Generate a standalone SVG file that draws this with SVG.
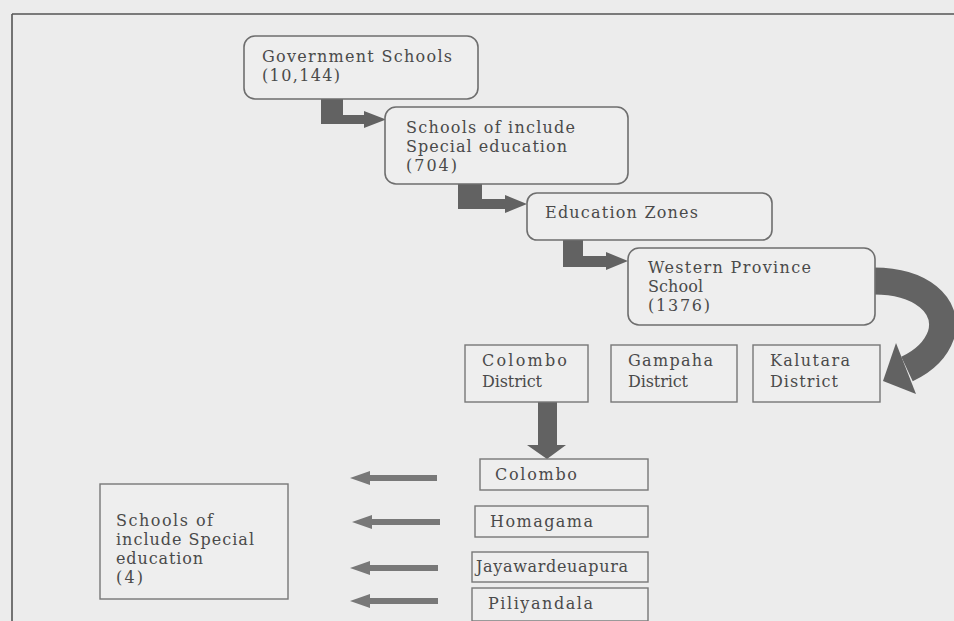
<svg xmlns="http://www.w3.org/2000/svg" width="954" height="621" viewBox="0 0 954 621">
<style>
.t{font-family:"DejaVu Serif","Liberation Serif",serif;font-size:16px;fill:#4a4a4a}
.rb{fill:#eeeeee;stroke:#6e6e6e;stroke-width:1.6}
.bx{fill:#eeeeee;stroke:#777;stroke-width:1.4}
.arr{fill:#626262}
.la{fill:#787878}
</style>
<rect width="954" height="621" fill="#ececec"/>
<g id="frame" fill="none" stroke="#555" stroke-width="1.6">
<line x1="12" y1="14" x2="954" y2="14"/>
<line x1="12" y1="14" x2="12" y2="621"/>
</g>
<g id="connectors">
<polygon class="arr" points="321,99 343,99 343,115 364,115 364,111 386,119.5 364,128 364,124 321,124"/>
<polygon class="arr" points="458,184 482,184 482,199 505,199 505,195 527,204 505,213 505,209 458,209"/>
<polygon class="arr" points="563,240 583,240 583,256 606,256 606,252 628,261 606,270 606,267 563,267"/>
<path d="M874 281 C920 281 950 305 941 335 C935 352 922 362 907 369" fill="none" stroke="#636363" stroke-width="27"/>
<polygon class="arr" points="896,343 883,381 916,394"/>
<polygon class="arr" points="538,402 557,402 557,445 566,445 547,459 527,445 538,445"/>
<polygon class="la" points="437,475 370,475 370,471 350,478 370,485 370,481 437,481"/>
<polygon class="la" points="440,519 372,519 372,515 352,522 372,529 372,525 440,525"/>
<polygon class="la" points="438,565 370,565 370,561 350,568 370,575 370,571 438,571"/>
<polygon class="la" points="438,598 370,598 370,594 350,601 370,608 370,604 438,604"/>
</g>
<g id="gov">
<rect class="rb" x="244" y="36" width="234" height="63" rx="11"/>
<text class="t" x="262" y="62" textLength="190" lengthAdjust="spacing">Government Schools</text>
<text class="t" x="262" y="81" textLength="78" lengthAdjust="spacing">(10,144)</text>
</g>
<g id="special">
<rect class="rb" x="385" y="107" width="243" height="77" rx="11"/>
<text class="t" x="406" y="133" textLength="169" lengthAdjust="spacing">Schools of include</text>
<text class="t" x="406" y="152" textLength="161" lengthAdjust="spacing">Special education</text>
<text class="t" x="406" y="171" textLength="51" lengthAdjust="spacing">(704)</text>
</g>
<g id="zones">
<rect class="rb" x="527" y="193" width="245" height="47" rx="10"/>
<text class="t" x="545" y="218" textLength="153" lengthAdjust="spacing">Education Zones</text>
</g>
<g id="western">
<rect class="rb" x="628" y="248" width="247" height="77" rx="11"/>
<text class="t" x="648" y="273" textLength="163" lengthAdjust="spacing">Western Province</text>
<text class="t" x="648" y="292" textLength="55" lengthAdjust="spacing">School</text>
<text class="t" x="648" y="311" textLength="62" lengthAdjust="spacing">(1376)</text>
</g>
<g id="colombo-district">
<rect class="bx" x="465" y="345" width="123" height="57"/>
<text class="t" x="482" y="366" textLength="85" lengthAdjust="spacing">Colombo</text>
<text class="t" x="482" y="387" textLength="60" lengthAdjust="spacing">District</text>
</g>
<g id="gampaha-district">
<rect class="bx" x="611" y="345" width="126" height="57"/>
<text class="t" x="628" y="366" textLength="85" lengthAdjust="spacing">Gampaha</text>
<text class="t" x="628" y="387" textLength="60" lengthAdjust="spacing">District</text>
</g>
<g id="kalutara-district">
<rect class="bx" x="753" y="345" width="127" height="57"/>
<text class="t" x="770" y="366" textLength="80" lengthAdjust="spacing">Kalutara</text>
<text class="t" x="770" y="387" textLength="68" lengthAdjust="spacing">District</text>
</g>
<g id="colombo">
<rect class="bx" x="480" y="459" width="168" height="31"/>
<text class="t" x="495" y="480" textLength="82" lengthAdjust="spacing">Colombo</text>
</g>
<g id="homagama">
<rect class="bx" x="475" y="506" width="173" height="31"/>
<text class="t" x="490" y="527" textLength="103" lengthAdjust="spacing">Homagama</text>
</g>
<g id="jayawardenapura">
<rect class="bx" x="472" y="552" width="176" height="30"/>
<text class="t" x="476" y="572" textLength="152" lengthAdjust="spacing">Jayawardeuapura</text>
</g>
<g id="piliyandala">
<rect class="bx" x="472" y="588" width="176" height="33"/>
<text class="t" x="488" y="609" textLength="105" lengthAdjust="spacing">Piliyandala</text>
</g>
<g id="special-4">
<rect class="bx" x="100" y="484" width="188" height="115"/>
<text class="t" x="116" y="526" textLength="97" lengthAdjust="spacing">Schools of</text>
<text class="t" x="116" y="545" textLength="138" lengthAdjust="spacing">include Special</text>
<text class="t" x="116" y="564" textLength="87" lengthAdjust="spacing">education</text>
<text class="t" x="116" y="583" textLength="27" lengthAdjust="spacing">(4)</text>
</g>
</svg>
